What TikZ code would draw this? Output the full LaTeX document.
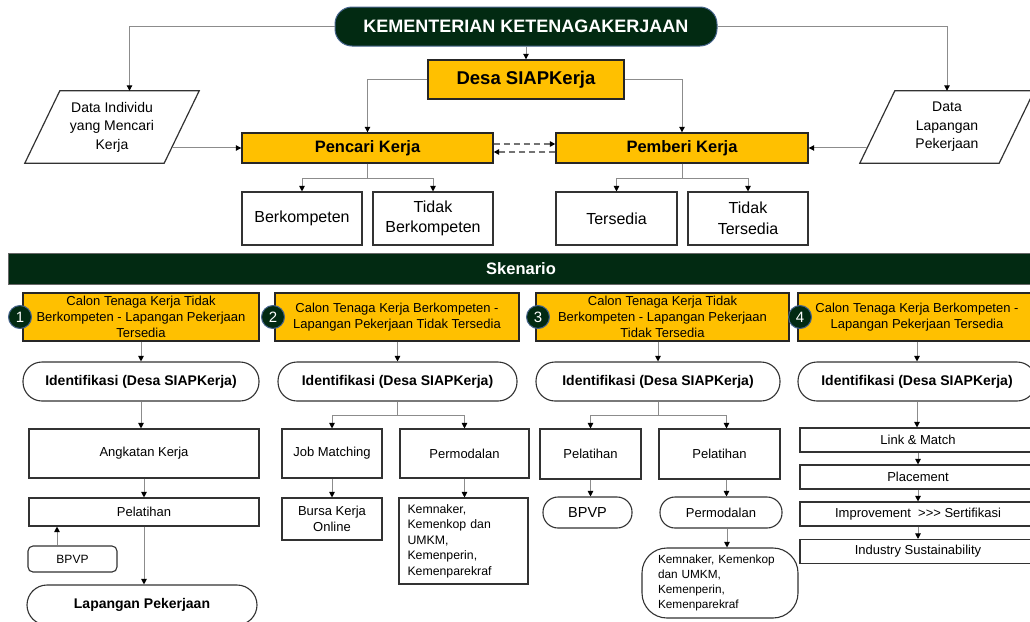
\documentclass[tikz,border=0pt]{standalone}
\usepackage{fontspec}
\setmainfont{Liberation Sans}
\usetikzlibrary{arrows.meta}
\usetikzlibrary{calc}
\definecolor{darkgreen}{RGB}{2,42,18}
\definecolor{badgeline}{RGB}{70,100,140}
\definecolor{boxyellow}{RGB}{255,192,0}
\definecolor{linegray}{RGB}{140,140,140}
\definecolor{boxline}{RGB}{50,50,50}

\begin{document}
\begin{tikzpicture}[x=1pt, y=-1pt,
  conn/.style={linegray, line width=1pt, ->, >={Triangle[length=5.5pt,width=5.5pt,color=black]}},
  dconn/.style={conn, line width=1.6pt, color=black!55, dash pattern=on 6pt off 4pt},
  whitebox/.style={draw=boxline, line width=1.1pt, fill=white, inner sep=0, align=center},
  yellowbox/.style={draw=black!85, line width=1.4pt, fill=boxyellow, inner sep=0, align=center},
  pill/.style={whitebox, rounded corners=19},
  badge/.style={circle, fill=darkgreen, draw=badgeline, line width=1pt, minimum size=23, inner sep=0, text=white, font=\fontsize{15}{15}\selectfont},
  f12/.style={font=\fontsize{12.3}{15.5}\selectfont},
  f13/.style={font=\fontsize{13}{15.7}\selectfont},
  f14/.style={font=\fontsize{14}{18.5}\selectfont},
  f16/.style={font=\fontsize{16}{20.5}\selectfont},
  bold14/.style={font=\bfseries\fontsize{14}{16}\selectfont},
  bold16/.style={font=\bfseries\fontsize{16.5}{18}\selectfont}]
\useasboundingbox (0,0) rectangle (1030,621);

\node[rounded corners=17, fill=darkgreen, draw=badgeline, line width=1pt, text=white, font=\bfseries\fontsize{18}{20}\selectfont, minimum width=382, minimum height=39, inner sep=0] (kem) at (526,26.5) {KEMENTERIAN KETENAGAKERJAAN};
\node[yellowbox, font=\bfseries\fontsize{18.5}{20}\selectfont, minimum width=196, minimum height=39] (desa) at (526,79.5) {Desa SIAPKerja};
\node[yellowbox, bold16, minimum width=251, minimum height=30] (pencari) at (367.5,148) {Pencari Kerja};
\node[yellowbox, bold16, minimum width=252, minimum height=30] (pemberi) at (682,148) {Pemberi Kerja};
\node[f14, minimum width=139, minimum height=72, inner sep=0, align=center] (datain) at (112,127) {Data Individu\\yang Mencari\\Kerja};
\node[f14, minimum width=139, minimum height=72, inner sep=0, align=center] (datalap) at (947,127) {Data\\Lapangan\\Pekerjaan};
\foreach \n in {datain,datalap}
  \draw[boxline, line width=1.2pt] ([xshift=17.5]\n.north west) -- ([xshift=17.5]\n.north east) -- ([xshift=-17.5]\n.south east) -- ([xshift=-17.5]\n.south west) -- cycle;
\coordinate (inR) at ($([xshift=17.5]datain.north east)!0.79!([xshift=-17.5]datain.south east)$);
\coordinate (lapL) at ($([xshift=17.5]datalap.north west)!0.79!([xshift=-17.5]datalap.south west)$);

\node[whitebox, f16, minimum width=120, minimum height=53] (berk) at (302,218.5) {Berkompeten};
\node[whitebox, f16, minimum width=120, minimum height=53] (tidakb) at (433,218.5) {Tidak\\Berkompeten};
\node[whitebox, f16, minimum width=121, minimum height=53] (tersedia) at (616.5,218.5) {Tersedia};
\node[whitebox, f16, minimum width=120, minimum height=53] (tidakt) at (748,218.5) {Tidak\\Tersedia};

\draw[conn] (kem.west) -| ([xshift=17.5]datain.north);
\draw[conn] (kem.east) -| (datalap.north);
\draw[conn] (kem.south) -- (desa.north);
\draw[conn] (desa.west) -| (pencari.north);
\draw[conn] (desa.east) -| (pemberi.north);
\draw[conn] (inR) -- (inR -| pencari.west);
\draw[conn] (lapL) -- (lapL -| pemberi.east);
\draw[dconn] ($(pencari.east)+(0,-4)$) -- ($(pemberi.west)+(0,-4)$);
\draw[dconn] ($(pemberi.west)+(0,4)$) -- ($(pencari.east)+(0,4)$);
\foreach \a/\b/\c in {pencari/berk/tidakb, pemberi/tersedia/tidakt} {
  \draw[conn] (\a.south) -- ++(0,15) -| (\b.north);
  \draw[conn] (\a.south) -- ++(0,15) -| (\c.north);
}

\node[fill=darkgreen, draw=black!60, line width=1pt, text=white, bold16, minimum width=1026, minimum height=31, inner sep=0] (sken) at (521,268.5) {Skenario};

\node[yellowbox, f13, minimum width=236, minimum height=48] (s1) at (141,317) {Calon Tenaga Kerja Tidak\\Berkompeten - Lapangan Pekerjaan\\Tersedia};
\node[yellowbox, f13, minimum width=244, minimum height=48] (s2) at (397,317) {Calon Tenaga Kerja Berkompeten -\\Lapangan Pekerjaan Tidak Tersedia};
\node[yellowbox, f13, minimum width=253, minimum height=48] (s3) at (662.5,317) {Calon Tenaga Kerja Tidak\\Berkompeten - Lapangan Pekerjaan\\Tidak Tersedia};
\node[yellowbox, f13, minimum width=238, minimum height=48] (s4) at (917,317) {Calon Tenaga Kerja Berkompeten -\\Lapangan Pekerjaan Tersedia};
\foreach \i/\x in {1/20, 2/273, 3/538, 4/800}
  \node[badge] (b\i) at (\x,317) {\i};

\foreach \i/\x/\w in {1/141/236, 2/397.5/239, 3/658/244, 4/917/238} {
  \node[pill, bold14, minimum width=\w, minimum height=39] (id\i) at (\x,381.5) {Identifikasi (Desa SIAPKerja)};
  \draw[conn] (s\i.south -| id\i.north) -- (id\i.north);
}

% skenario 1
\node[whitebox, f13, minimum width=230, minimum height=49] (ak) at (144,453.5) {Angkatan Kerja};
\node[whitebox, f13, minimum width=230, minimum height=28] (pel1) at (144,512) {Pelatihan};
\node[whitebox, rounded corners=5, font=\fontsize{12}{14}\selectfont, minimum width=89, minimum height=26] (bpvp1) at (72.5,559) {BPVP};
\node[pill, bold14, rounded corners=20, minimum width=230, minimum height=40] (lap) at (142,605) {Lapangan Pekerjaan};
\draw[conn] (id1.south) -- (id1.south |- ak.north);
\draw[conn] (ak.south) -- (pel1.north);
\draw[conn] ([xshift=-15.5]bpvp1.north) -- ([xshift=-15.5]bpvp1.north |- pel1.south);
\draw[conn] (pel1.south) -- (pel1.south |- lap.north);

% skenario 2
\node[whitebox, f13, minimum width=100, minimum height=49] (jm) at (332,453.5) {Job Matching};
\node[whitebox, f13, minimum width=129, minimum height=49] (pm2) at (464.5,453.5) {Permodalan};
\node[whitebox, f13, minimum width=100, minimum height=42] (bko) at (332,519) {Bursa Kerja\\Online};
\node[whitebox, f12, align=left, text width=112, minimum width=129, minimum height=86] (kem2) at (463.5,541) {Kemnaker,\\Kemenkop dan\\UMKM,\\Kemenperin,\\Kemenparekraf};
\draw[conn] (id2.south) -- ++(0,14) -| (jm.north);
\draw[conn] (id2.south) -- ++(0,14) -| (pm2.north);
\draw[conn] (jm.south) -- (bko.north);
\draw[conn] (pm2.south) -- (pm2.south |- kem2.north);

% skenario 3
\node[whitebox, f13, minimum width=101, minimum height=50] (pa) at (590.5,454) {Pelatihan};
\node[whitebox, f13, minimum width=121, minimum height=50] (pb) at (719.5,454) {Pelatihan};
\node[pill, font=\fontsize{14.5}{16}\selectfont, rounded corners=15, minimum width=89, minimum height=31] (bpvp3) at (587.5,512.5) {BPVP};
\node[pill, f13, rounded corners=15, minimum width=122, minimum height=31] (pm3) at (721,512.5) {Permodalan};
\node[whitebox, font=\fontsize{11.8}{15}\selectfont, align=left, text width=124, rounded corners=25, minimum width=156, minimum height=70] (kem3) at (720,583) {Kemnaker, Kemenkop\\dan UMKM,\\Kemenperin,\\Kemenparekraf};
\draw[conn] (id3.south) -- ++(0,14) -| (pa.north);
\draw[conn] (id3.south) -- ++(0,14) -| ([xshift=7]pb.north);
\draw[conn] (pa.south) -- (pa.south |- bpvp3.north);
\draw[conn] ([xshift=7]pb.south) -- ([xshift=7]pb.south |- pm3.north);
\draw[conn] ([xshift=6]pm3.south) -- ([xshift=6]pm3.south |- kem3.north);

% skenario 4
\foreach \n/\y/\t in {lm/440/Link \& Match, plc/477/Placement, imp/514/Improvement\ \ {>}{>}{>} Sertifikasi, ind/551.5/Industry Sustainability}
  \node[whitebox, f13, minimum width=236, minimum height=24] (\n) at (918,\y) {\t};
\draw[conn] (id4.south) -- (id4.south |- lm.north);
\foreach \a/\b in {lm/plc, plc/imp, imp/ind}
  \draw[conn] (\a.south) -- (\b.north);
\end{tikzpicture}
\end{document}
